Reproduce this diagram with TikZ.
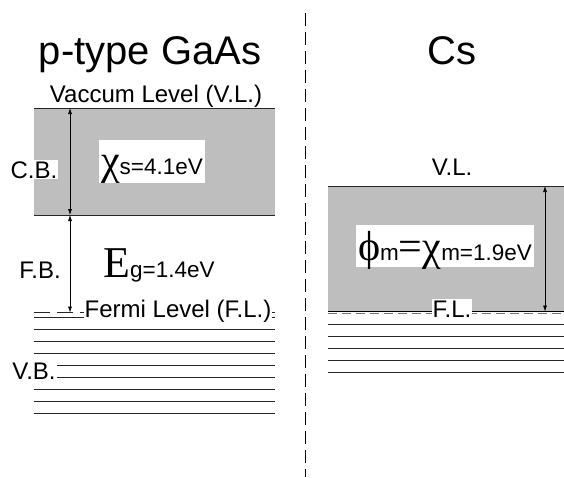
\documentclass[tikz,border=0pt]{standalone}
\usepackage{fontspec}
\setmainfont{Liberation Sans}
\newfontfamily\grk{Liberation Serif}
\usetikzlibrary{arrows.meta}
\definecolor{bandgray}{RGB}{190,190,190}

\begin{document}
\begin{tikzpicture}[x=1pt,y=-1pt,
  ttl/.style={font=\fontsize{40}{44}\selectfont},
  lbl/.style={font=\fontsize{24}{26}\selectfont, inner sep=1pt},
  level/.style={line width=0.8pt, black!85},
  gap/.style={line width=0.6pt, {Latex[length=6pt,width=4pt]}-{Latex[length=6pt,width=4pt]}}]
  \useasboundingbox (0,0) rectangle (564,477);
  % shaded bands
  \fill[bandgray] (34,108) rectangle (275,215);
  \fill[bandgray] (328,186) rectangle (564,312);
  % GaAs side
  \draw[level] (34,108) -- (275,108);
  \draw[level] (34,215) -- (275,215);
  \draw[level, dash pattern=on 16pt off 7pt] (34,312.5) -- (275,312.5);
  \foreach \y in {317.5,329.5,...,413.5}
    \draw[level] (34,\y) -- (275,\y);
  % Cs side
  \draw[level] (328,186) -- (564,186);
  \draw[line width=1.4pt] (328,311.5) -- (564,311.5);
  \draw[black!55, line width=0.6pt, dash pattern=on 9pt off 5pt] (328,313.2) -- (564,313.2);
  \foreach \y in {324,336,...,372}
    \draw[level] (328,\y) -- (564,\y);
  % separator
  \draw[line width=0.8pt, dash pattern=on 13pt off 6pt] (305,13) -- (305,477);
  % energy gaps
  \coordinate (vlL) at (70,108);
  \coordinate (cbL) at (70,215);
  \coordinate (flL) at (70,312.5);
  \coordinate (vlR) at (545,186);
  \coordinate (flR) at (545,311.5);
  \draw[gap] (vlL) -- (cbL);
  \draw[gap] (cbL) -- (flL);
  \draw[gap] (vlR) -- (flR);
  % labels
  \node[ttl, anchor=base] (gaas) at (150,64) {p-type GaAs};
  \node[ttl, anchor=base] (cs) at (452,64) {Cs};
  \node[lbl, anchor=base] (vacL) at (156,102) {Vaccum Level (V.L.)};
  \node[lbl, anchor=base] (vacR) at (452,175) {V.L.};
  \node[lbl, anchor=base, fill=white] (cb) at (34,178) {C.B.};
  \node[lbl, anchor=base] (fb) at (40,278) {F.B.};
  \node[lbl, anchor=base, fill=white] (vb) at (34,379) {V.B.};
  \node[lbl, anchor=base west, fill=white, inner sep=0.5pt] (fermiL) at (84,317) {Fermi Level (F.L.)};
  \node[lbl, anchor=base, fill=white] (fermiR) at (452,317) {F.L.};
  \node[anchor=base, fill=white, inner xsep=2pt, inner ysep=2pt, text height=32pt, text depth=7pt] (chis) at (152,174)
    {{\grk\fontsize{42}{44}\selectfont χ}\fontsize{22.5}{24}\selectfont s=4.1eV};
  \node[anchor=base, inner sep=1pt] (eg) at (159,277)
    {{\grk\fontsize{44}{44}\selectfont E}\fontsize{22.5}{24}\selectfont g=1.4eV};
  \node[anchor=base, fill=white, inner xsep=2pt, inner ysep=2pt, text height=33pt, text depth=5pt] (phim) at (445,260)
    {{\grk\fontsize{42}{44}\selectfont ϕ}\fontsize{22.5}{24}\selectfont m{\grk\fontsize{42}{44}\selectfont =χ}m=1.9eV};
\end{tikzpicture}
\end{document}
